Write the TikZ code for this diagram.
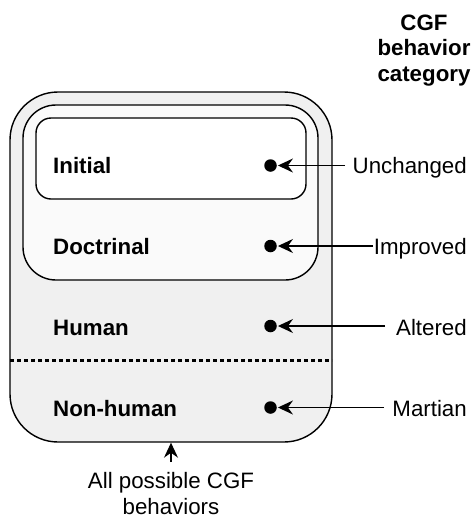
\documentclass[tikz,border=0pt]{standalone}
\usepackage{fontspec}
\setmainfont{Liberation Sans}
\usetikzlibrary{arrows.meta}
\begin{document}
\begin{tikzpicture}[x=1pt,y=-1pt,
  every node/.style={font=\fontsize{22.3}{25.5}\selectfont, inner sep=0pt},
  box/.style={draw=black, line width=1.4pt, inner sep=0pt},
  rowlab/.style={anchor=base west, font=\fontsize{22.3}{25.5}\selectfont\bfseries},
  catlab/.style={anchor=base east},
  dotmark/.style={circle, fill=black, inner sep=0pt, minimum size=12.5pt},
  tip/.style={-{Stealth[length=15pt, width=14pt, inset=5pt]}},
  arr/.style={line width=1.3pt, tip, shorten >=1pt}
]
\useasboundingbox (0,0) rectangle (473,528);
% boxes
\node[box, fill=gray!12, rounded corners=48pt, minimum width=322pt, minimum height=350pt] (outer) at (171,267) {};
\node[box, fill=gray!4, rounded corners=33pt, minimum width=295pt, minimum height=175pt] (middle) at (170.5,192.5) {};
\node[box, fill=white, rounded corners=15pt, minimum width=270pt, minimum height=81pt] (inner) at (171,158.5) {};
% dotted separator
\coordinate (sepL) at (10,360);
\coordinate (sepR) at (332,360);
\draw[line width=3pt, dash pattern=on 4pt off 3pt] (sepL) -- (sepR);
% row labels
\node[rowlab] (initial) at (53,173) {Initial};
\node[rowlab] (doctrinal) at (53,254) {Doctrinal};
\node[rowlab] (human) at (53,335) {Human};
\node[rowlab] (nonhuman) at (53,416) {Non-human};
% dots
\node[dotmark] (d1) at (270.5,165.5) {};
\node[dotmark] (d2) at (270.5,246) {};
\node[dotmark] (d3) at (270.5,326) {};
\node[dotmark] (d4) at (270.5,407.5) {};
% category labels
\node[catlab] (unchanged) at (467,173) {Unchanged};
\node[catlab] (improved) at (467,254) {Improved};
\node[catlab] (altered) at (467,335) {Altered};
\node[catlab] (martian) at (467,416) {Martian};
% arrow starts
\coordinate (s1) at (345,165.5);
\coordinate (s2) at (373,246);
\coordinate (s3) at (385,326);
\coordinate (s4) at (384,407.5);
\draw[arr] (s1) -- (d1);
\draw[arr] (s2) -- (d2);
\draw[arr] (s3) -- (d3);
\draw[arr] (s4) -- (d4);
% title
\node[align=center, anchor=base, font=\fontsize{22.3}{25.5}\selectfont\bfseries] (title) at (424,81) {CGF\\behavior\\category};
% bottom label
\node[align=center, anchor=base] (all) at (171,514) {All possible CGF\\behaviors};
\coordinate (b0) at (171,462);
\draw[line width=1.3pt, tip] (b0) -- (outer.south);
\end{tikzpicture}
\end{document}
